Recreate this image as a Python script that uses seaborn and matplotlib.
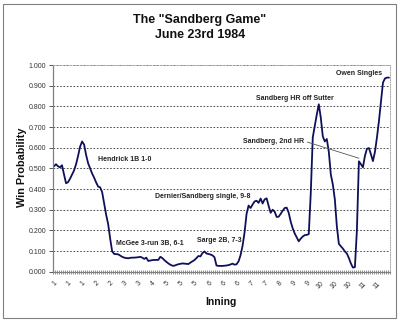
import matplotlib
matplotlib.use("Agg")
import matplotlib.pyplot as plt
from matplotlib.patches import Rectangle
from matplotlib.ticker import FuncFormatter, MultipleLocator, FixedLocator
import numpy as np
import pandas as pd
import seaborn as sns

# Cubs win probability after each plate appearance, 23 June 1984 vs. St. Louis
win_prob = [
    0.510, 0.520, 0.510, 0.505, 0.515, 0.470, 0.428, 0.433, 0.450, 0.470,
    0.490, 0.520, 0.560, 0.605, 0.630, 0.615, 0.565, 0.525, 0.500, 0.475,
    0.455, 0.432, 0.412, 0.408, 0.385, 0.330, 0.275, 0.230, 0.160, 0.098,
    0.086, 0.085, 0.084, 0.078, 0.072, 0.068, 0.066, 0.065, 0.067, 0.068,
    0.068, 0.069, 0.070, 0.072, 0.068, 0.062, 0.068, 0.052, 0.054, 0.056,
    0.057, 0.057, 0.057, 0.072, 0.066, 0.056, 0.048, 0.040, 0.034, 0.029,
    0.029, 0.033, 0.036, 0.038, 0.040, 0.039, 0.038, 0.037, 0.044, 0.050,
    0.056, 0.066, 0.076, 0.074, 0.090, 0.098, 0.088, 0.086, 0.083, 0.079,
    0.070, 0.030, 0.028, 0.028, 0.028, 0.029, 0.030, 0.032, 0.035, 0.039,
    0.034, 0.036, 0.050, 0.080, 0.125, 0.190, 0.280, 0.320, 0.308, 0.325,
    0.340, 0.343, 0.333, 0.354, 0.330, 0.350, 0.355, 0.318, 0.285, 0.300,
    0.290, 0.265, 0.266, 0.280, 0.295, 0.308, 0.310, 0.285, 0.242, 0.210,
    0.185, 0.166, 0.147, 0.160, 0.170, 0.177, 0.178, 0.182, 0.380, 0.650,
    0.705, 0.760, 0.810, 0.745, 0.655, 0.630, 0.642, 0.580, 0.470, 0.422,
    0.350, 0.220, 0.135, 0.123, 0.112, 0.098, 0.088, 0.066, 0.040, 0.020,
    0.022, 0.200, 0.534, 0.520, 0.505, 0.560, 0.595, 0.598, 0.568, 0.535,
    0.580, 0.650, 0.730, 0.820, 0.915, 0.935, 0.939, 0.939,
]

# inning shown under every seventh plate appearance
inning_labels = ["1", "1", "1", "2", "2", "3", "3", "4", "5", "5", "5", "6",
                 "6", "6", "7", "7", "8", "9", "9", "10", "10", "10", "11", "11"]
label_step = 7

# key plays: text, anchor play index, anchor win probability
play_notes = [
    ("Hendrick 1B 1-0", 21.9, 0.545),
    ("Dernier/Sandberg single, 9-8", 50.3, 0.366),
    ("McGee 3-run 3B, 6-1", 30.9, 0.139),
    ("Sarge 2B, 7-3", 71.3, 0.153),
    ("Sandberg HR off Sutter", 100.7, 0.840),
    ("Owen Singles", 140.6, 0.961),
]
second_hr_text = "Sandberg, 2nd HR"
second_hr_text_pos = (94.2, 0.632)
second_hr_play = 152

df = pd.DataFrame({"play": np.arange(len(win_prob)), "wp": win_prob})

sns.set_style("white")
plt.rcParams["font.family"] = ["Liberation Sans", "DejaVu Sans"]

fig = plt.figure(figsize=(4, 3.22), dpi=100)
ax = fig.add_axes([53 / 400, 1 - 271.7 / 322, 337 / 400, 206.7 / 322])

sns.lineplot(data=df, x="play", y="wp", ax=ax, color="#10105a", linewidth=1.3)

n = len(win_prob)
ax.set_xlim(-0.5, n - 0.5)
ax.set_ylim(0, 1.0)

# horizontal dashed grid
ax.yaxis.set_major_locator(MultipleLocator(0.1))
ax.grid(axis="y", color="#333333", linestyle=(0, (2, 2)), linewidth=0.6)
ax.grid(axis="x", visible=False)
ax.set_axisbelow(True)

ax.yaxis.set_major_formatter(FuncFormatter(lambda v, p: f"{v:.3f}"))
ax.tick_params(axis="y", labelsize=5, colors="#555555", labelcolor="#333333",
               length=3, width=0.7, direction="out", pad=2, left=True)

# category axis: one tick per plate appearance, labels every seventh
ax.xaxis.set_major_locator(FixedLocator(np.arange(0, n, label_step)))
ax.set_xticklabels(inning_labels, rotation=45, ha="right",
                   rotation_mode="anchor", fontsize=5, color="#333333")
ax.xaxis.set_minor_locator(FixedLocator(np.arange(-0.5, n, 1)))
ax.tick_params(axis="x", which="major", length=0, pad=6, bottom=True)
ax.tick_params(axis="x", which="minor", length=3, width=0.5,
               color="#666666", direction="inout", bottom=True)

ax.set_xlabel("")
ax.set_ylabel("")

for side in ("top", "right"):
    ax.spines[side].set_color("#aaaaaa")
    ax.spines[side].set_linestyle((0, (1, 1.5)))
    ax.spines[side].set_linewidth(0.7)
for side in ("left", "bottom"):
    ax.spines[side].set_color("#808080")
    ax.spines[side].set_linewidth(0.9)

note_style = dict(fontsize=5, fontweight="bold", color="#222222",
                  ha="left", va="center")
for text, px, py in play_notes:
    ax.text(px, py, text, **note_style)

ax.annotate(second_hr_text, xy=(second_hr_play, win_prob[second_hr_play] + 0.015),
            xytext=second_hr_text_pos, textcoords="data",
            arrowprops=dict(arrowstyle="-", color="#555555", lw=0.6,
                            shrinkA=0, shrinkB=0,
                            relpos=(1.0, 0.5)),
            **note_style)

fig.text(0.5, 1 - 20.5 / 322, 'The "Sandberg Game"', ha="center", va="center",
         fontsize=9, fontweight="bold", color="#111111")
fig.text(0.5, 1 - 35.5 / 322, "June 23rd 1984", ha="center", va="center",
         fontsize=9, fontweight="bold", color="#111111")
fig.text(22 / 400, 1 - 167 / 322, "Win Probability", rotation=90,
         ha="center", va="center", fontsize=7.8, fontweight="bold", color="#111111")
fig.text(221 / 400, 1 - 302 / 322, "Inning", ha="center", va="center",
         fontsize=7.5, fontweight="bold", color="#111111")

fig.add_artist(Rectangle((3 / 400, 4 / 322), 393 / 400, 314 / 322,
                         transform=fig.transFigure, fill=False,
                         edgecolor="#808080", linewidth=0.8))

fig.savefig("out.png", dpi=100, facecolor="white")
